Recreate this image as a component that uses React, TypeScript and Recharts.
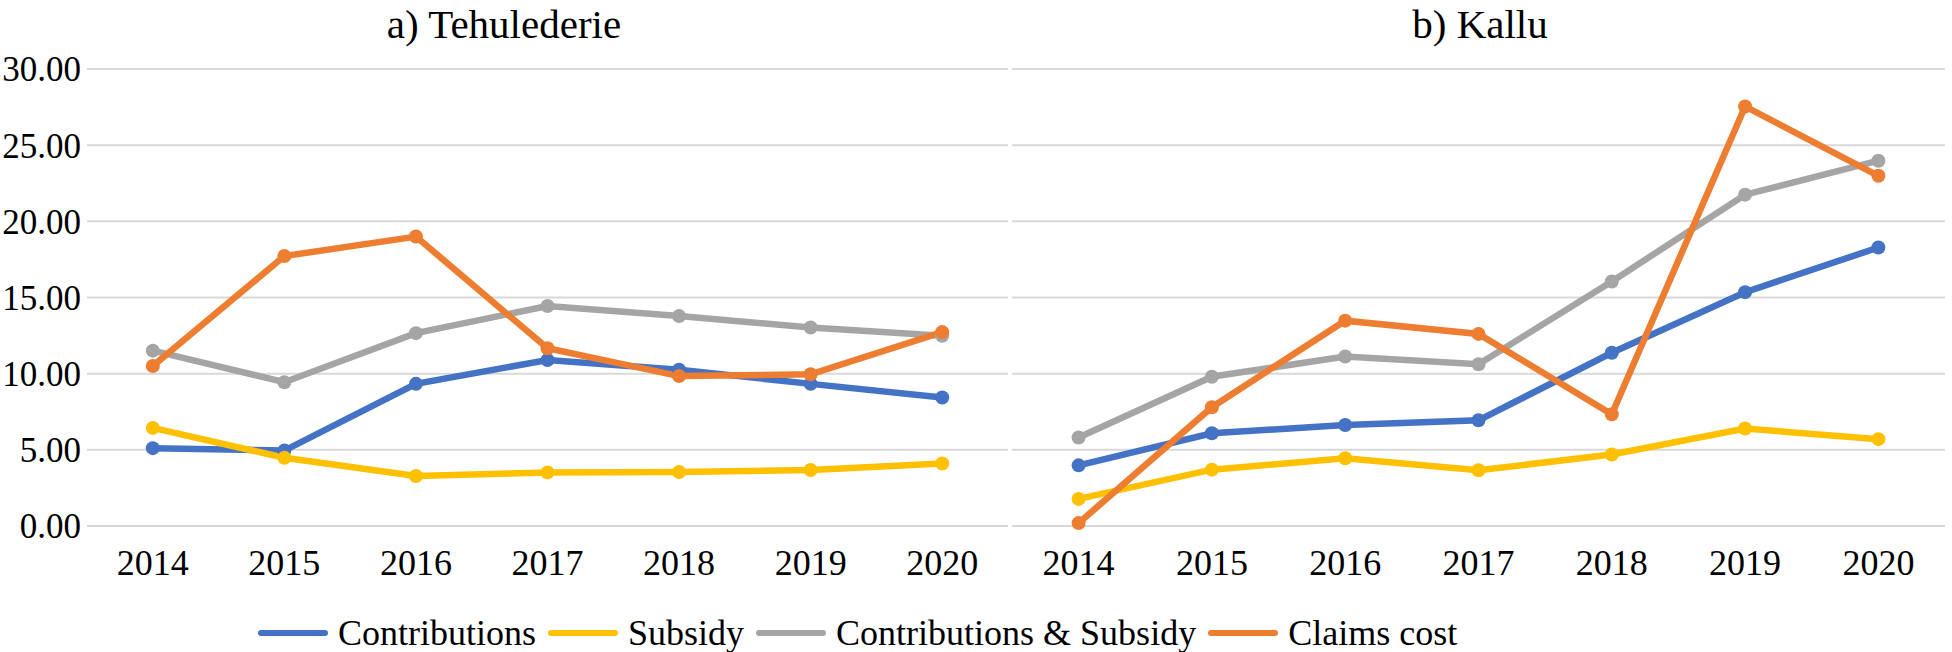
import React from "react"
import { LineChart, Line, XAxis, YAxis, CartesianGrid } from "recharts"

const years = ["2014", "2015", "2016", "2017", "2018", "2019", "2020"]
const yTicks = [0, 5, 10, 15, 20, 25, 30]

// a) Tehulederie
const tehContributions = [5.11, 4.95, 9.33, 10.9, 10.26, 9.33, 8.44]
const tehSubsidy = [6.44, 4.48, 3.28, 3.52, 3.54, 3.68, 4.1]
const tehContribSubsidy = [11.51, 9.44, 12.66, 14.44, 13.78, 13.03, 12.49]
const tehClaims = [10.5, 17.72, 19.0, 11.67, 9.84, 9.96, 12.73]

// b) Kallu
const kalContributions = [3.98, 6.09, 6.63, 6.94, 11.37, 15.35, 18.28]
const kalSubsidy = [1.78, 3.7, 4.45, 3.66, 4.69, 6.4, 5.7]
const kalContribSubsidy = [5.81, 9.8, 11.13, 10.62, 16.05, 21.75, 23.98]
const kalClaims = [0.19, 7.8, 13.48, 12.61, 7.34, 27.54, 22.99]

const seriesNames = ["Contributions", "Subsidy", "Contributions & Subsidy", "Claims cost"]
const seriesColors = ["#4472C4", "#FFC000", "#A5A5A5", "#ED7D31"]
const seriesKeys = ["contrib", "subsidy", "both", "claims"]

const font = "Liberation Serif, Times New Roman, serif"

function rows(a: number[], b: number[], c: number[], d: number[]) {
  return years.map((year, i) => ({ year, contrib: a[i], subsidy: b[i], both: c[i], claims: d[i] }))
}

const tehData = rows(tehContributions, tehSubsidy, tehContribSubsidy, tehClaims)
const kalData = rows(kalContributions, kalSubsidy, kalContribSubsidy, kalClaims)

const xTick = { fontSize: 36, fill: "#000", fontFamily: font }
const yTick = { fontSize: 35, fill: "#000", fontFamily: font }

function Panel({ data, width, showY, padX, marginLeft, marginRight }: any) {
  return (
    <LineChart
      width={width}
      height={590}
      data={data}
      margin={{ top: 69, right: marginRight, bottom: 24, left: marginLeft }}
      style={{ fontFamily: font }}
    >
      <CartesianGrid vertical={false} stroke="#D9D9D9" strokeWidth={2} />
      <XAxis
        dataKey="year"
        axisLine={false}
        tickLine={false}
        tick={xTick}
        tickMargin={17}
        height={40}
        padding={{ left: padX, right: padX }}
        interval={0}
      />
      <YAxis
        hide={!showY}
        width={87}
        domain={[0, 30]}
        ticks={yTicks}
        axisLine={false}
        tickLine={false}
        tickSize={0}
        tickMargin={6}
        tick={yTick}
        tickFormatter={(v: number) => v.toFixed(2)}
      />
      {seriesKeys.map((k, i) => (
        <Line
          key={k}
          type="linear"
          dataKey={k}
          stroke={seriesColors[i]}
          strokeWidth={6.5}
          dot={{ r: 7, fill: seriesColors[i], stroke: seriesColors[i], strokeWidth: 0 }}
          isAnimationActive={false}
        />
      ))}
    </LineChart>
  )
}

const titleStyle: React.CSSProperties = {
  position: "absolute",
  top: 0,
  textAlign: "center",
  fontSize: 41,
  lineHeight: "normal",
}

export default function App() {
  return (
    <div style={{ position: "absolute", left: 0, top: 0, width: 1952, height: 652, background: "#fff", fontFamily: font }}>
      <div style={{ position: "absolute", left: 0, top: 0 }}>
        <Panel data={tehData} width={1008} showY padX={65.8} marginLeft={0} marginRight={0} />
      </div>
      <div style={{ position: "absolute", left: 1008, top: 0 }}>
        <Panel data={kalData} width={944} showY={false} padX={66.6} marginLeft={4} marginRight={7} />
      </div>
      <div style={{ ...titleStyle, left: 0, width: 1008 }}>a) Tehulederie</div>
      <div style={{ ...titleStyle, left: 1008, width: 944 }}>b) Kallu</div>
      <div style={{ position: "absolute", left: 258, top: 612, display: "flex", alignItems: "center", fontSize: 36, whiteSpace: "nowrap" }}>
        {seriesNames.map((name, i) => (
          <div key={name} style={{ display: "flex", alignItems: "center", marginRight: 12 }}>
            <div style={{ width: 70, height: 6, borderRadius: 3, background: seriesColors[i], marginRight: 10 }} />
            <span>{name}</span>
          </div>
        ))}
      </div>
    </div>
  )
}
